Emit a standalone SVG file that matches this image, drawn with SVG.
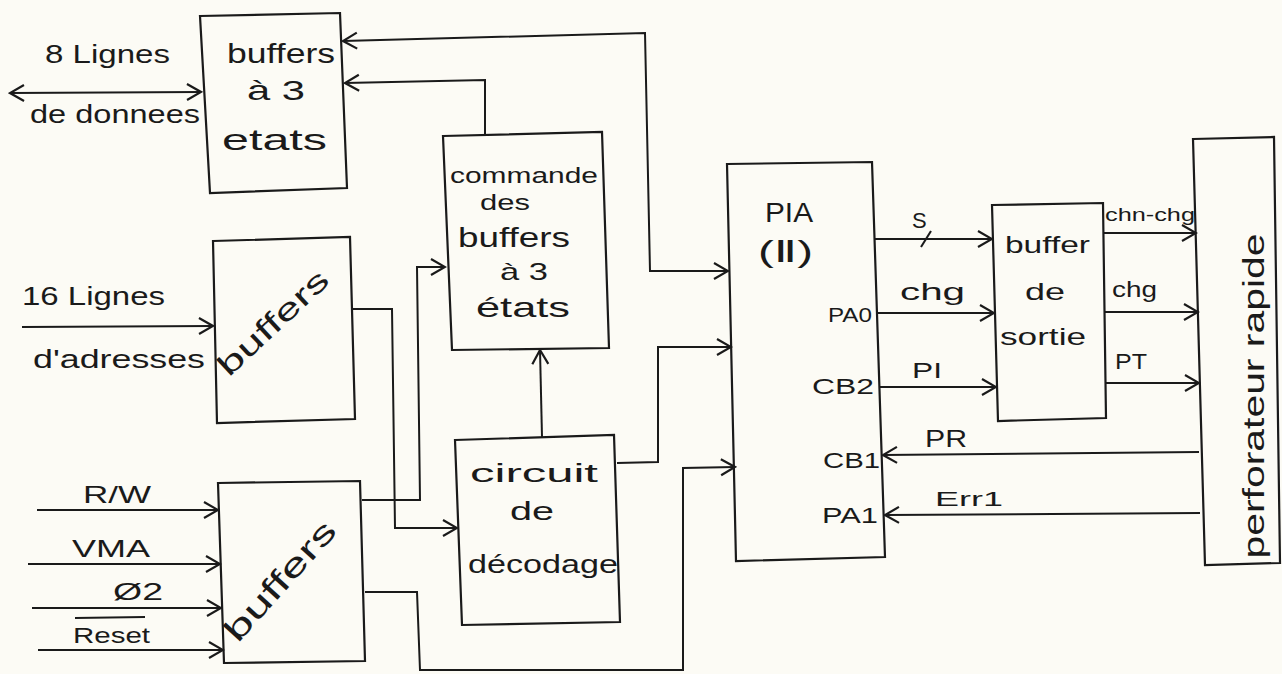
<svg xmlns="http://www.w3.org/2000/svg" width="1282" height="674" viewBox="0 0 1282 674">
<defs>
<marker id="arr" viewBox="-16 -10 18 20" refX="0" refY="0" markerWidth="18" markerHeight="20" markerUnits="userSpaceOnUse" orient="auto-start-reverse">
<path d="M-14,-8 L0,0 L-14,8" fill="none" stroke="#1a1a1a" stroke-width="2.2"/>
</marker>
</defs>
<style>
.box{fill:none;stroke:#1a1a1a;stroke-width:2.2;stroke-linejoin:miter}
.ln{fill:none;stroke:#1a1a1a;stroke-width:2}
.a{marker-end:url(#arr)}
.ab{marker-start:url(#arr);marker-end:url(#arr)}
text{font-family:"Liberation Sans","DejaVu Sans",sans-serif;fill:#1a1a1a;lengthAdjust:spacingAndGlyphs}
</style>
<rect width="1282" height="674" fill="#fcfbf5"/>

<g id="connectors">
<path class="ln ab" d="M10,93 L201,92"/>
<path class="ln ab" d="M343,41 L645,33 L650,271 L728,271"/>
<path class="ln a" d="M485,134 L485,80 L345,83"/>
<path class="ln a" d="M22,327 L213,326"/>
<path class="ln a" d="M352,309 L392,309 L395,528 L457,528"/>
<path class="ln a" d="M362,500 L420,500 L417,267 L445,267"/>
<path class="ln a" d="M365,592 L417,592 L420,670 L683,670 L683,468 L735,467"/>
<path class="ln a" d="M542,437 L540,350"/>
<path class="ln a" d="M617,463 L658,462 L658,347 L731,347"/>
<path class="ln a" d="M874,239 L992,239"/>
<path class="ln" d="M921,247 L931,231"/>
<path class="ln a" d="M877,313 L994,313"/>
<path class="ln a" d="M880,387 L996,387"/>
<path class="ln a" d="M1103,233 L1196,233"/>
<path class="ln a" d="M1104,312 L1198,312"/>
<path class="ln a" d="M1105,383 L1199,383"/>
<path class="ln a" d="M1199,452 L883,455"/>
<path class="ln a" d="M1200,513 L885,515"/>
<path class="ln a" d="M37,510 L218,510"/>
<path class="ln a" d="M28,564 L220,564"/>
<path class="ln a" d="M32,608 L221,608"/>
<path class="ln a" d="M38,650 L223,650"/>
</g>

<g id="data-labels">
<text x="45" y="63" font-size="26" textLength="125" lengthAdjust="spacingAndGlyphs">8 Lignes</text>
<text x="30" y="123" font-size="26" textLength="170" lengthAdjust="spacingAndGlyphs">de donnees</text>
</g>
<g id="buffers3etats">
<path class="box" d="M200,16 L340,13 L347,188 L210,193 Z"/>
<text x="227" y="63" font-size="28" textLength="108" lengthAdjust="spacingAndGlyphs">buffers</text>
<text x="247" y="100" font-size="28" textLength="58" lengthAdjust="spacingAndGlyphs">à 3</text>
<text x="222" y="150" font-size="30" textLength="105" lengthAdjust="spacingAndGlyphs">etats</text>
</g>
<g id="commande">
<path class="box" d="M443,136 L602,132 L609,348 L452,350 Z"/>
<text x="450" y="183" font-size="22" textLength="148" lengthAdjust="spacingAndGlyphs">commande</text>
<text x="480" y="210" font-size="22" textLength="50" lengthAdjust="spacingAndGlyphs">des</text>
<text x="458" y="247" font-size="27" textLength="112" lengthAdjust="spacingAndGlyphs">buffers</text>
<text x="500" y="280" font-size="24" textLength="48" lengthAdjust="spacingAndGlyphs">à 3</text>
<text x="476" y="317" font-size="28" textLength="94" lengthAdjust="spacingAndGlyphs">états</text>
</g>
<g id="addr-labels">
<text x="22" y="305" font-size="26" textLength="143" lengthAdjust="spacingAndGlyphs">16 Lignes</text>
<text x="33" y="368" font-size="26" textLength="172" lengthAdjust="spacingAndGlyphs">d'adresses</text>
</g>
<g id="buffers-addr">
<path class="box" d="M213,241 L350,237 L355,419 L217,423 Z"/>
<text transform="translate(280,330) rotate(-43)" text-anchor="middle" font-size="30" textLength="140" lengthAdjust="spacingAndGlyphs">buffers</text>
</g>
<g id="ctrl-labels">
<text x="83" y="503" font-size="24" textLength="68" lengthAdjust="spacingAndGlyphs">R/W</text>
<text x="72" y="557" font-size="24" textLength="78" lengthAdjust="spacingAndGlyphs">VMA</text>
<text x="113" y="600" font-size="24" textLength="50" lengthAdjust="spacingAndGlyphs">Ø2</text>
<text x="73" y="643" font-size="22" textLength="77" lengthAdjust="spacingAndGlyphs">Reset</text>
<path class="ln" d="M75,618 L145,617"/>
</g>
<g id="buffers-ctrl">
<path class="box" d="M218,483 L360,481 L365,661 L224,663 Z"/>
<text transform="translate(288,588) rotate(-48)" text-anchor="middle" font-size="32" textLength="150" lengthAdjust="spacingAndGlyphs">buffers</text>
</g>
<g id="circuit">
<path class="box" d="M455,440 L614,435 L620,622 L462,625 Z"/>
<text x="470" y="482" font-size="26" textLength="128" lengthAdjust="spacingAndGlyphs">circuit</text>
<text x="510" y="520" font-size="26" textLength="44" lengthAdjust="spacingAndGlyphs">de</text>
<text x="468" y="573" font-size="26" textLength="150" lengthAdjust="spacingAndGlyphs">décodage</text>
</g>
<g id="pia">
<path class="box" d="M727,164 L872,162 L885,557 L736,561 Z"/>
<text x="765" y="222" font-size="28" textLength="48" lengthAdjust="spacingAndGlyphs">PIA</text>
<text x="758" y="262" font-size="30" textLength="55" lengthAdjust="spacingAndGlyphs">(Ⅱ)</text>
<text x="828" y="322" font-size="20" textLength="44" lengthAdjust="spacingAndGlyphs">PA0</text>
<text x="812" y="394" font-size="22" textLength="62" lengthAdjust="spacingAndGlyphs">CB2</text>
<text x="823" y="468" font-size="22" textLength="57" lengthAdjust="spacingAndGlyphs">CB1</text>
<text x="822" y="523" font-size="22" textLength="56" lengthAdjust="spacingAndGlyphs">PA1</text>
</g>
<g id="pia-signals">
<text x="912" y="228" font-size="22">S</text>
<text x="900" y="300" font-size="24" textLength="65" lengthAdjust="spacingAndGlyphs">chg</text>
<text x="912" y="378" font-size="22" textLength="30" lengthAdjust="spacingAndGlyphs">PI</text>
<text x="925" y="447" font-size="24" textLength="42" lengthAdjust="spacingAndGlyphs">PR</text>
<text x="935" y="506" font-size="20" textLength="68" lengthAdjust="spacingAndGlyphs">Err1</text>
</g>
<g id="buffer-sortie">
<path class="box" d="M992,205 L1103,203 L1106,418 L998,421 Z"/>
<text x="1005" y="253" font-size="24" textLength="85" lengthAdjust="spacingAndGlyphs">buffer</text>
<text x="1025" y="300" font-size="24" textLength="40" lengthAdjust="spacingAndGlyphs">de</text>
<text x="1000" y="345" font-size="24" textLength="86" lengthAdjust="spacingAndGlyphs">sortie</text>
</g>
<g id="out-signals">
<text x="1105" y="221" font-size="18" textLength="90" lengthAdjust="spacingAndGlyphs">chn-chg</text>
<text x="1112" y="297" font-size="22" textLength="45" lengthAdjust="spacingAndGlyphs">chg</text>
<text x="1115" y="369" font-size="22" textLength="32" lengthAdjust="spacingAndGlyphs">PT</text>
</g>
<g id="perforateur">
<path class="box" d="M1193,139 L1274,137 L1280,563 L1205,565 Z"/>
<text transform="translate(1264,396) rotate(-90)" text-anchor="middle" font-size="30" textLength="325" lengthAdjust="spacingAndGlyphs">perforateur rapide</text>
</g>
</svg>
